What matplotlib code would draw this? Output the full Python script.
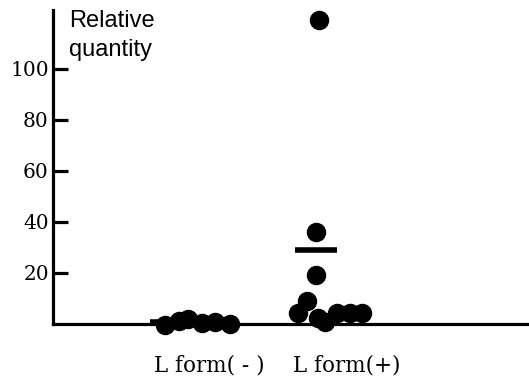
import numpy as np
import matplotlib.pyplot as plt

# groups and individual values
groups = ['L form( - )', 'L form(+)']
minus_offset = [-0.32, -0.22, -0.15, -0.05, 0.04, 0.15]
minus_vals = [-0.4, 0.8, 1.6, 0.3, 0.5, -0.3]
plus_offset = [-0.20, -0.225, -0.225, -0.29, -0.355, -0.21, -0.16, -0.07, 0.02, 0.11]
plus_vals = [119, 36, 19, 8.8, 4.1, 2.2, 0.6, 4.1, 4.1, 4.1]
mean_vals = [0.6, 28.8]
mean_offset = [-0.275, -0.225]
yticks = [20, 40, 60, 80, 100]

fig = plt.figure(figsize=(5.29, 3.84), dpi=100)
ax = fig.add_axes([53/529, 1 - 323.5/384, 475/529, 313.5/384])

ax.plot(1 + np.array(minus_offset), minus_vals, 'o', color='black', ms=13, clip_on=False, zorder=3)
ax.plot(2 + np.array(plus_offset), plus_vals, 'o', color='black', ms=13, clip_on=False, zorder=3)
for i, m in enumerate(mean_vals):
    c = i + 1 + mean_offset[i]
    ax.plot([c - 0.15, c + 0.15], [m, m], color='black', lw=4, solid_capstyle='butt', zorder=2)

ax.set_xlim(-0.130, 3.31)
ax.set_ylim(0, 123)

for s in ['top', 'right']:
    ax.spines[s].set_visible(False)
for s in ['left', 'bottom']:
    ax.spines[s].set_linewidth(2.3)

ax.set_yticks(yticks)
ax.set_yticklabels([str(t) for t in yticks], family='DejaVu Serif', fontsize=14.5)
ax.tick_params(axis='y', direction='in', length=11, width=2.3, pad=3)
ax.set_xticks([1, 2])
ax.set_xticklabels(groups, family='DejaVu Serif', fontsize=15.5)
ax.tick_params(axis='x', length=0, pad=22)

ax.text(69/529, 1 - 10/384, 'Relative\nquantity', transform=fig.transFigure,
        family='Liberation Sans', fontsize=17, va='top', ha='left', linespacing=1.4)

fig.savefig('out.png', dpi=100)
